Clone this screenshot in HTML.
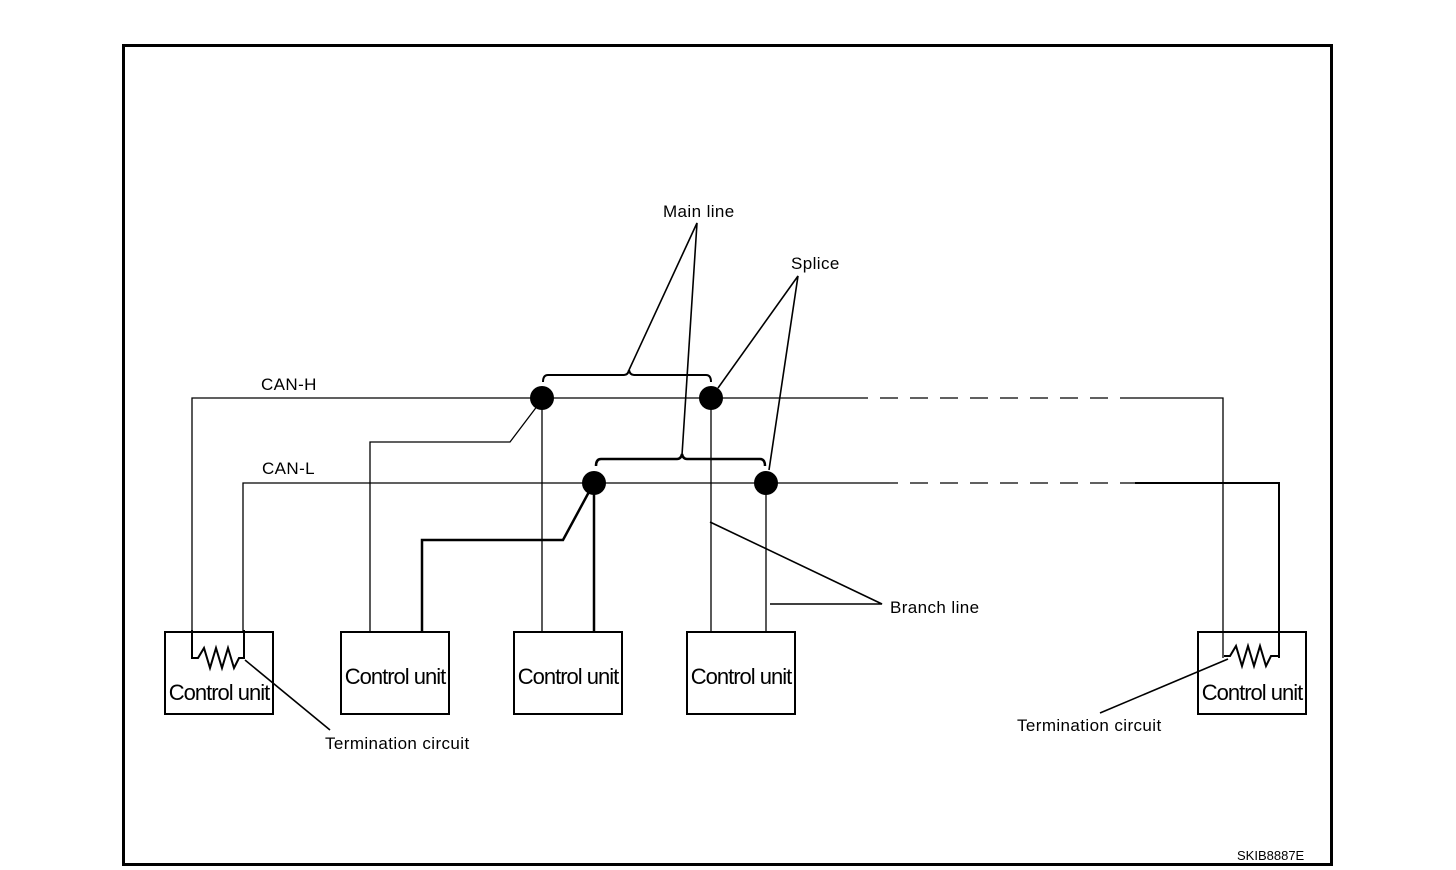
<!DOCTYPE html>
<html><head><meta charset="utf-8"><style>
html,body{margin:0;padding:0;background:#fff;}
svg{display:block;}
text{font-family:"Liberation Sans",sans-serif;fill:#000;}
.cu{font-size:22px;letter-spacing:-1px;}
.lb{font-size:17px;letter-spacing:0.4px;}
</style></head><body>
<svg width="1456" height="870" viewBox="0 0 1456 870" xmlns="http://www.w3.org/2000/svg">
<rect x="123.5" y="45.5" width="1208" height="819" fill="none" stroke="#000" stroke-width="3"/>
<g fill="none" stroke="#000" stroke-width="1.3">
<polyline points="192,632 192,398 850,398"/>
<line x1="850" y1="398" x2="1130" y2="398" stroke-dasharray="18,12"/>
<polyline points="1130,398 1223,398 1223,658"/>
<polyline points="243,632 243,483 880,483"/>
<line x1="880" y1="483" x2="1135" y2="483" stroke-dasharray="18,12"/>
<polyline points="1135,483 1279,483 1279,658" stroke-width="2"/>
<polyline points="192,630 192,658 198,658 204,648 210,668 216,648 222,668 228,648 234,668 239,658 244,658 244,630" stroke-width="2"/>
<polyline points="1224,656 1230,656 1236,646 1242,666 1248,646 1254,666 1260,646 1266,666 1271,656 1279,656" stroke-width="2"/>
<polyline points="370,632 370,442 510,442 538,405"/>
<polyline points="422,632 422,540 563,540 590,490" stroke-width="2.5"/>
<line x1="542" y1="398" x2="542" y2="632"/>
<line x1="594" y1="483" x2="594" y2="632" stroke-width="2.5"/>
<line x1="711" y1="398" x2="711" y2="632"/>
<line x1="766" y1="483" x2="766" y2="632"/>
<rect x="165" y="632" width="108" height="82" stroke-width="2"/>
<rect x="341" y="632" width="108" height="82" stroke-width="2"/>
<rect x="514" y="632" width="108" height="82" stroke-width="2"/>
<rect x="687" y="632" width="108" height="82" stroke-width="2"/>
<rect x="1198" y="632" width="108" height="82" stroke-width="2"/>
<path d="M543,382 Q543,375 548,375 L624,375 Q628,375 629,370 Q630,375 634,375 L706,375 Q711,375 711,382" stroke-width="2"/>
<path d="M596,466 Q596,459 601,459 L677,459 Q681,459 682,454 Q683,459 687,459 L760,459 Q765,459 765,466" stroke-width="2.5"/>
<polyline points="629,370 697,223 682,455" stroke-width="1.6"/>
<polyline points="718,388 798,276 769,470" stroke-width="1.6"/>
<polyline points="710,522 882,604 770,604" stroke-width="1.6"/>
<line x1="245" y1="660" x2="330" y2="730" stroke-width="1.6"/>
<line x1="1100" y1="713" x2="1228" y2="659" stroke-width="1.6"/>
</g>
<g fill="#000">
<circle cx="542" cy="398" r="12"/>
<circle cx="711" cy="398" r="12"/>
<circle cx="594" cy="483" r="12"/>
<circle cx="766" cy="483" r="12"/>
</g>
<text class="lb" x="261" y="390">CAN-H</text>
<text class="lb" x="262" y="474">CAN-L</text>
<text class="lb" x="663" y="217">Main line</text>
<text class="lb" x="791" y="269">Splice</text>
<text class="lb" x="890" y="613">Branch line</text>
<text class="lb" x="325" y="749">Termination circuit</text>
<text class="lb" x="1017" y="731">Termination circuit</text>
<text class="cu" x="219" y="700" text-anchor="middle">Control unit</text>
<text class="cu" x="395" y="684" text-anchor="middle">Control unit</text>
<text class="cu" x="568" y="684" text-anchor="middle">Control unit</text>
<text class="cu" x="741" y="684" text-anchor="middle">Control unit</text>
<text class="cu" x="1252" y="700" text-anchor="middle">Control unit</text>
<text x="1237" y="860" style="font-size:13px">SKIB8887E</text>
</svg>
</body></html>
